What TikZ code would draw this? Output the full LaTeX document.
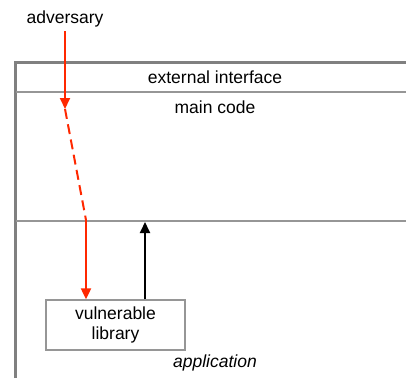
\documentclass[tikz,border=0pt]{standalone}
\usepackage{fontspec}
\setmainfont{Liberation Sans}
\usetikzlibrary{arrows.meta}
\definecolor{frame}{RGB}{128,128,128}
\definecolor{sep}{RGB}{150,150,150}
\definecolor{attack}{RGB}{255,40,0}
\begin{document}
\begin{tikzpicture}[x=1pt,y=-1pt,
  lbl/.style={font=\fontsize{17.5}{21}\selectfont, inner sep=0pt},
  libbox/.style={draw=sep, line width=1.3pt, fill=white, minimum width=139pt, minimum height=50pt, align=center, font=\fontsize{17.5}{20}\selectfont},
  frameline/.style={draw=frame, line width=3pt},
  sepline/.style={draw=sep, line width=1.3pt},
  redarrow/.style={draw=attack, line width=2pt, -{Triangle[length=11pt,width=10pt]}},
  redline/.style={draw=attack, line width=2pt},
  blackarrow/.style={draw=black, line width=2pt, -{Triangle[length=11pt,width=10pt]}}]
\useasboundingbox (0,0) rectangle (406,378);

% application frame
\draw[frameline] (15.5,378) -- (15.5,62) -- (406,62);
\draw[sepline] (15.5,92) -- (406,92);
\draw[sepline] (15.5,221) -- (406,221);

% labels
\node[lbl] (adv) at (65,19) {adversary};
\node[lbl] (ext) at (215,77) {external interface};
\node[lbl] (main) at (215,107) {main code};
\node[lbl, font=\fontsize{17.5}{21}\selectfont\itshape] (app) at (215,363) {application};

% vulnerable library
\node[libbox] (lib) at (115.5,325) {vulnerable\\library};

% attack path
\coordinate (hit) at (65,109);
\coordinate (bend) at (86,220);
\draw[redarrow] (adv.south) ++(0,4) -- (hit);
\draw[redline, dash pattern=on 10pt off 5.5pt] (hit) -- (bend);
\draw[redarrow] (bend) -- (bend |- lib.north);

% call from library back up
\coordinate (up) at (145,222);
\draw[blackarrow] (up |- lib.north) -- (up);
\end{tikzpicture}
\end{document}
